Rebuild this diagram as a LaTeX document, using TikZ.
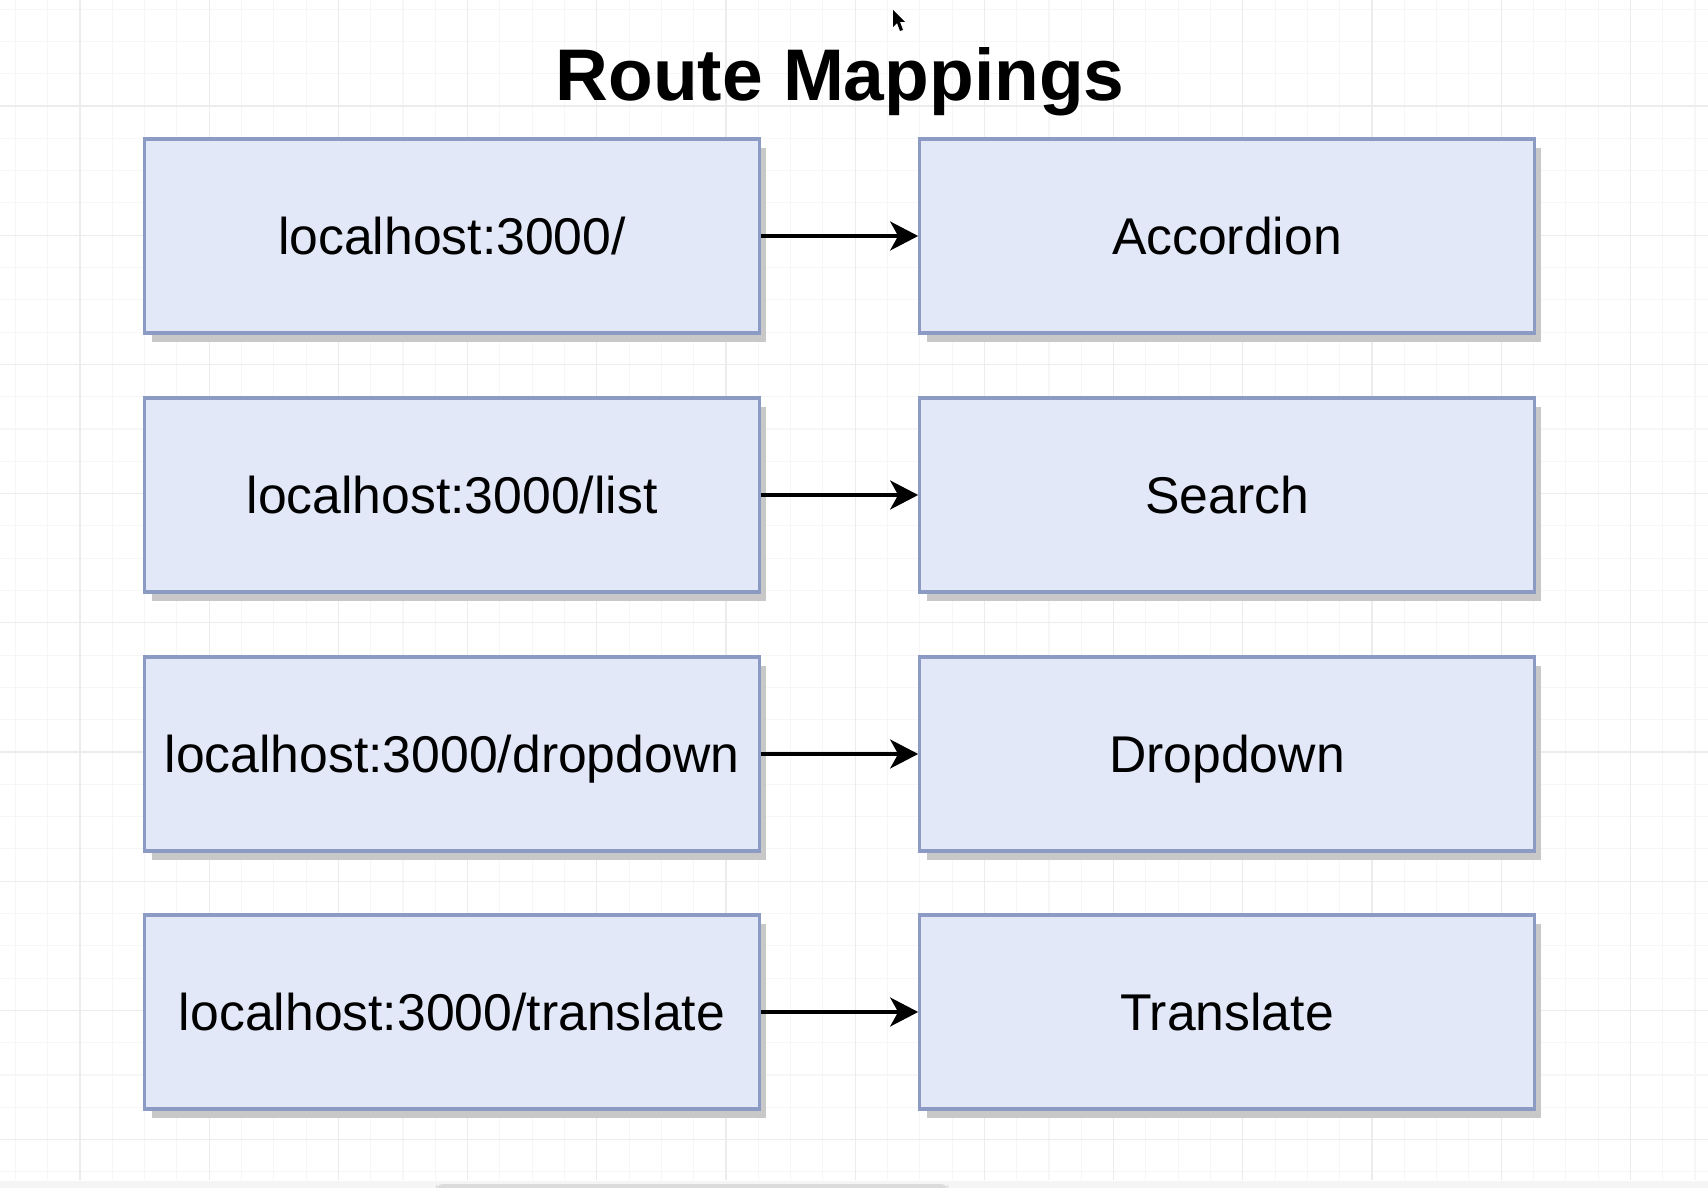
\documentclass[tikz,border=0pt]{standalone}
\usepackage{fontspec}
\setmainfont{Liberation Sans}
\usetikzlibrary{arrows.meta,shadows}
\definecolor{boxfill}{RGB}{226,232,248}
\definecolor{boxline}{RGB}{140,155,196}
\definecolor{gridminor}{RGB}{246,246,246}
\definecolor{gridmajor}{RGB}{236,236,236}
\definecolor{shadowgray}{RGB}{200,200,200}
\tikzset{
  routebox/.style={draw=boxline, line width=0.95pt, fill=boxfill,
    minimum width=6.14cm, minimum height=1.94cm, inner sep=0pt,
    text height=10.5pt, text depth=0pt,
    font=\fontsize{14.7pt}{17pt}\selectfont,
    drop shadow={shadow xshift=0.07cm, shadow yshift=-0.09cm, fill=shadowgray, opacity=1}},
  maparrow/.style={line width=0.9pt, -{Stealth[length=0.28cm, width=0.29cm, inset=0.08cm]}},
}
\begin{document}
\begin{tikzpicture}[x=0.01cm, y=-0.01cm]
  \useasboundingbox (0,0) rectangle (1708,1188);
  \fill[white] (0,0) rectangle (1708,1188);
  % background grid
  \foreach \i in {0,...,52} {
    \draw[gridminor, line width=0.3pt] ({15.4+32.3*\i},0) -- ({15.4+32.3*\i},1180);
  }
  \foreach \i in {0,...,36} {
    \draw[gridminor, line width=0.3pt] (0,{9.1+32.3*\i}) -- (1708,{9.1+32.3*\i});
  }
  \foreach \i in {0,...,13} {
    \draw[gridmajor, line width=0.35pt] ({80+129.2*\i},0) -- ({80+129.2*\i},1180);
  }
  \foreach \i in {0,...,8} {
    \draw[gridmajor, line width=0.35pt] (0,{106+129.2*\i}) -- (1708,{106+129.2*\i});
  }
  % window strip and scrollbar along the bottom
  \fill[black!4] (0,1181) rectangle (1708,1188);
  \fill[black!14, rounded corners=2pt] (436,1184) rectangle (948,1190);
  % pointer
  \fill[black] (893,10) -- (893,27) -- (897,23) -- (900,31) -- (903,30) -- (900,22) -- (905,22) -- cycle;

  % title
  \node[anchor=base, font=\bfseries\fontsize{20.8pt}{24pt}\selectfont] (title) at (840,101) {Route Mappings};

  % routes and components
  \node[routebox] (r1) at (452,236) {localhost:3000/};
  \node[routebox] (c1) at (1227,236) {Accordion};
  \node[routebox] (r2) at (452,495) {localhost:3000/list};
  \node[routebox] (c2) at (1227,495) {Search};
  \node[routebox] (r3) at (452,754) {localhost:3000/dropdown};
  \node[routebox] (c3) at (1227,754) {Dropdown};
  \node[routebox] (r4) at (452,1012) {localhost:3000/translate};
  \node[routebox] (c4) at (1227,1012) {Translate};

  \foreach \k in {1,...,4} {
    \draw[maparrow] (r\k.east) -- (c\k.west);
  }
\end{tikzpicture}
\end{document}
